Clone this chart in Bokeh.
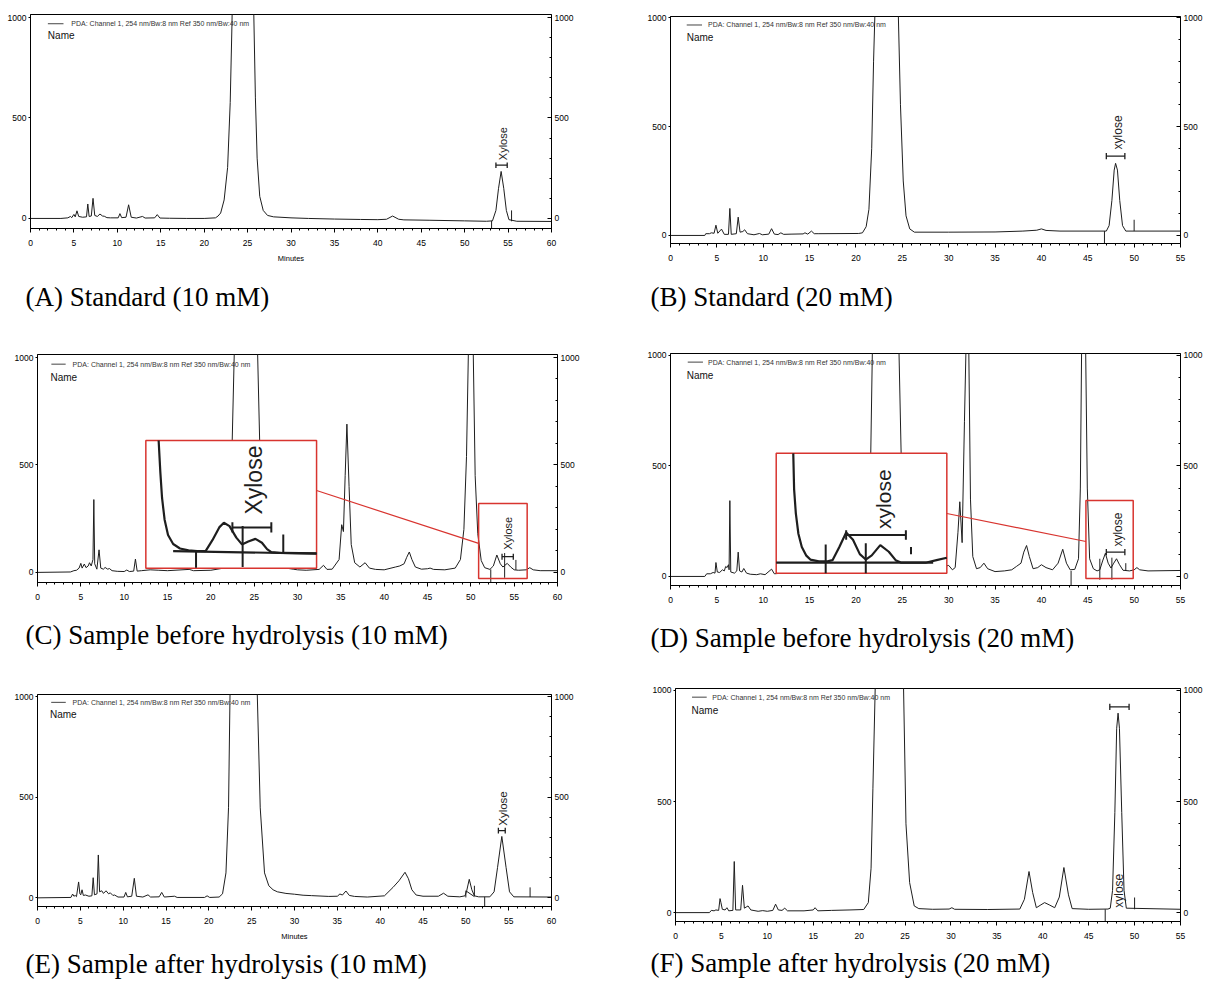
import numpy as np
from bokeh.plotting import figure
from bokeh.layouts import column, row
from bokeh.models import Title, LinearAxis, FixedTicker, SingleIntervalTicker, Range1d
from bokeh.core.properties import value
from bokeh.embed import file_html
from bokeh.resources import INLINE

# ---------------------------------------------------------------- data
captions = ["(A) Standard (10 mM)", "(B) Standard (20 mM)",
            "(C) Sample before hydrolysis (10 mM)", "(D) Sample before hydrolysis (20 mM)",
            "(E) Sample after hydrolysis (10 mM)", "(F) Sample after hydrolysis (20 mM)"]
legend_text = "PDA: Channel 1, 254 nm/Bw:8 nm Ref 350 nm/Bw:40 nm"
y_ticks = [0, 500, 1000]

# retention time (min) / detector response
A_time = [0, 3.5, 4.3, 4.6, 4.75, 5.0, 5.15, 5.35, 5.55, 6.0, 6.45, 6.6, 6.75, 7.0, 7.2, 7.4, 7.7, 8.0, 8.3, 8.5,
          8.8, 9.2, 10.1, 10.3, 10.5, 11.0, 11.3, 11.6, 12.2, 12.9, 13.2, 14.3, 14.6, 14.9, 16, 18, 20, 21.3, 21.6,
          21.9, 22.3, 22.7, 23.0, 23.2, 23.6, 24.5, 25.4, 25.7, 25.9, 26.1, 26.4, 26.8, 27.3, 28, 30, 32, 35, 38,
          40, 41.0, 41.7, 42.4, 43, 46, 50, 52.5, 53.2, 53.6, 53.9, 54.2, 54.5, 54.8, 55.1, 56, 60]
A_signal = [0, 0, 3, 10, 4, 20, 8, 38, 10, 6, 8, 72, 10, 12, 100, 15, 10, 22, 12, 11,
            4, 3, 3, 24, 4, 6, 68, 6, 2, 10, 2, 3, 19, 2, 1, 0, 0, 3, 12,
            27, 92, 254, 577, 965, 2000, 2200, 2000, 1050, 600, 300, 110, 40, 15, 8, 3, 0, -3, -5,
            -6, -4, 12, -4, -7, -9, -12, -14, -12, 40, 150, 234, 150, 40, -6, -14, -15]

B_time = [0, 3.7, 3.8, 4.2, 4.4, 4.7, 4.9, 5.1, 5.5, 5.8, 6.25, 6.4, 6.55, 7.1, 7.3, 7.5, 7.8, 8.0, 8.3, 9.0,
          9.6, 9.9, 10.6, 10.9, 11.2, 11.6, 11.9, 12.2, 13, 14.3, 14.5, 14.8, 15.2, 15.5, 16, 20.3, 20.7, 21.1,
          21.4, 21.7, 21.9, 22.1, 22.5, 23.5, 24.3, 24.55, 24.8, 25.1, 25.4, 25.8, 26.3, 30, 35, 38, 39.5, 40.0,
          40.5, 42, 47.0, 47.3, 47.6, 47.85, 48.0, 48.2, 48.45, 48.75, 49.1, 55]
B_signal = [0, 0, 8, 8, 12, 10, 47, 10, 29, 5, 5, 124, 5, 8, 84, 15, 18, 26, 8, 3,
            9, 3, 6, 31, 6, 4, 12, 5, 6, 7, 12, 6, 20, 8, 8, 9, 12, 40,
            120, 400, 800, 1100, 2000, 2200, 1800, 1050, 600, 250, 90, 30, 15, 15, 16, 20, 24, 30,
            23, 20, 20, 45, 160, 300, 331, 300, 160, 45, 20, 20]

C_time = [0, 3.8, 4.2, 4.5, 4.8, 5.0, 5.15, 5.4, 5.6, 5.85, 6.0, 6.2, 6.4, 6.5, 6.6, 6.85, 7.1, 7.3, 7.6, 7.8,
          8.1, 8.3, 8.6, 9.2, 10.0, 10.3, 10.6, 11.1, 11.3, 11.5, 12, 13, 14, 15, 17.5, 18, 20, 21.5, 22.0,
          22.4, 22.75, 23.2, 25.0, 25.35, 25.7, 26.2, 27, 28.0, 28.5, 29, 29.5, 30, 31, 32.5, 33.0, 33.4, 34.0,
          34.8, 35.1, 35.3, 35.5, 35.7, 35.95, 36.2, 36.6, 37.2, 37.8, 38.3, 39, 40, 41.3, 41.8, 42.3, 42.6,
          42.9, 43.2, 43.6, 44.3, 45.0, 45.3, 45.7, 47, 48.2, 48.8, 49.2, 49.5, 49.75, 50.0, 50.25, 50.5, 50.8,
          51.2, 51.6, 52.2, 52.6, 53.0, 53.4, 53.7, 54.2, 54.6, 55.0, 55.5, 56.4, 56.8, 57.2, 58, 60]
C_signal = [0, 2, 8, 10, 20, 42, 20, 39, 22, 30, 45, 30, 60, 339, 40, 15, 105, 20, 15, 23,
            15, 18, 8, 5, 4, 11, 4, 6, 62, 6, 8, 12, 10, 8, 14, 8, 10, 20, 100,
            500, 1100, 2200, 2200, 1100, 500, 120, 40, 22, 25, 18, 15, 12, 10, 14, 33, 14, 15,
            60, 222, 190, 450, 690, 400, 130, 45, 25, 45, 20, 14, 12, 25, 30, 40, 70,
            95, 60, 25, 15, 17, 20, 14, 12, 20, 60, 200, 540, 1100, 2000, 1100, 450, 180,
            55, 22, 14, 30, 81, 40, 25, 42, 25, 12, 10, 12, 22, 12, 8, 8]

D_time = [0, 3.7, 3.9, 4.3, 4.6, 4.8, 4.9, 5.05, 5.3, 5.6, 5.8, 5.95, 6.1, 6.25, 6.32, 6.4, 6.5, 6.9, 7.15, 7.3,
          7.45, 7.7, 7.9, 8.2, 8.6, 9.3, 9.7, 10.2, 10.9, 11.2, 11.8, 15, 20, 21.2, 21.5, 21.8, 22.3, 24.2, 24.6,
          24.9, 25.4, 26, 28, 29, 30, 30.4, 30.7, 31.0, 31.2, 31.45, 31.7, 31.9, 32.0, 32.15, 32.35, 32.6, 33.0,
          33.4, 33.8, 34.2, 35, 36, 36.8, 37.3, 37.8, 38.1, 38.4, 38.7, 39.1, 39.6, 40.0, 40.5, 41.2, 41.8, 42.3,
          42.7, 43.1, 43.6, 44.0, 44.2, 44.35, 44.5, 44.75, 44.95, 45.2, 45.6, 46.0, 46.3, 46.6, 46.9, 47.2, 47.5,
          47.8, 48.1, 48.4, 48.8, 49.5, 50.0, 50.3, 50.6, 51.5, 55]
D_signal = [0, 0, 12, 12, 18, 15, 63, 20, 18, 30, 25, 45, 40, 53, 30, 343, 20, 15, 25, 110,
            25, 20, 36, 15, 10, 8, 12, 8, 33, 12, 14, 15, 18, 60, 300, 1100, 2200, 2200, 1100,
            500, 120, 50, 35, 40, 50, 30, 40, 200, 338, 153, 700, 1100, 1500, 1100, 350, 90, 35,
            40, 60, 35, 22, 25, 30, 45, 60, 110, 140, 90, 35, 40, 53, 40, 30, 60, 123,
            60, 30, 32, 80, 400, 1100, 2000, 1100, 400, 80, 35, 25, 30, 70, 105, 60, 38,
            60, 80, 55, 28, 25, 30, 40, 30, 25, 27]

E_time = [0, 3.9, 4.1, 4.25, 4.4, 4.55, 4.8, 4.95, 5.05, 5.2, 5.35, 5.6, 6.0, 6.35, 6.5, 6.65, 6.95, 7.1, 7.25,
          7.5, 7.7, 8.0, 8.3, 8.5, 8.8, 9.0, 9.4, 10.1, 10.3, 10.5, 11.0, 11.3, 11.55, 12.3, 12.9, 13.2, 14.2,
          14.5, 14.8, 16.0, 16.3, 19.5, 19.8, 20.1, 21.2, 21.6, 22.0, 22.3, 22.5, 23.0, 25.2, 25.6, 26.0, 26.5,
          27.0, 27.5, 28.0, 29, 30, 31, 32, 34, 35.0, 35.3, 35.6, 36.0, 36.4, 37, 38.5, 40.5, 41.5, 42.2, 42.9,
          43.3, 43.7, 44.2, 45, 46.8, 47.4, 47.9, 49.3, 49.9, 50.1, 50.4, 50.7, 51.0, 51.5, 52.8, 53.3, 53.7,
          54.2, 54.7, 55.1, 55.6, 60]
E_signal = [0, 2, 19, 8, 12, 6, 79, 20, 15, 40, 12, 14, 8, 10, 100, 15, 20, 213, 30,
            35, 22, 35, 20, 25, 12, 14, 4, 4, 27, 5, 8, 97, 8, 4, 15, 4, 5,
            27, 4, 8, 2, 2, 10, 2, 4, 20, 124, 450, 1100, 2200, 2200, 1100, 447, 124,
            60, 40, 30, 22, 18, 13, 11, 7, 8, 19, 14, 34, 12, 7, 4, 10, 52, 85, 127,
            95, 40, 14, 8, 8, 23, 8, 5, 10, 35, 92, 40, 10, 5, 5, 30, 150,
            305, 150, 30, 5, 4]

F_time = [0, 3.7, 3.9, 4.2, 4.4, 4.7, 4.85, 4.95, 5.1, 5.4, 5.6, 5.8, 6.25, 6.4, 6.55, 7.1, 7.3, 7.5, 7.7, 7.9,
          8.2, 9.0, 9.5, 10.0, 10.6, 10.9, 11.2, 11.6, 11.9, 12.2, 14.0, 15.0, 15.2, 15.5, 17, 19, 20.5, 21.0,
          21.3, 21.5, 21.8, 22.5, 24.3, 24.8, 25.1, 25.5, 26.0, 26.5, 28, 29.8, 30.1, 30.4, 34, 37.5, 38.0, 38.5,
          38.9, 39.3, 39.8, 40.2, 40.7, 41.3, 41.8, 42.3, 42.8, 43.2, 45.0, 47.1, 47.35, 47.6, 47.85, 48.05, 48.2,
          48.35, 48.6, 48.85, 49.1, 55]
F_signal = [0, 0, 10, 8, 12, 10, 63, 45, 15, 12, 22, 8, 10, 230, 12, 12, 123, 20, 25, 30,
            12, 6, 9, 6, 10, 38, 12, 10, 20, 8, 8, 12, 22, 8, 10, 12, 14, 45,
            200, 560, 1100, 2200, 2200, 1100, 400, 135, 30, 18, 15, 16, 22, 15, 14, 16, 60, 185,
            90, 22, 35, 45, 35, 22, 70, 203, 80, 18, 15, 16, 20, 100, 450, 830, 898,
            830, 450, 100, 20, 15]

# xylose annotation (one entry per panel A..F)
xylose_names = ["Xylose", "xylose", "Xylose", "xylose", "Xylose", "xylose"]
xylose_label_t = [54.45, 48.25, 54.3, 48.3, 54.3, 48.3]
xylose_label_y = [290, 395, 105, 135, 358, 22]
bracket_t0 = [53.6, 47.0, 53.6, 47.0, 53.8, 47.3]
bracket_t1 = [54.9, 49.0, 54.9, 49.0, 54.6, 49.4]
bracket_y = [265, 364, 73, 110, 334, 926]

# integration event marks: time, from, to
A_marks = ([53.1, 55.4], [-12, -14], [-60, 40])
B_marks = ([46.8, 50.0], [20, 20], [-60, 72])
C_marks = ([52.3, 53.9, 55.2], [14, 90, 12], [-60, -25, 58])
D_marks = ([43.2, 46.3, 47.6, 49.1], [25, 80, 85, 60], [-45, -15, -15, 25])
E_marks = ([50.0, 51.0, 52.2, 57.5], [2, 8, 5, 4], [35, 60, -60, 52])
F_marks = ([46.8, 50.0], [15, 15], [-60, 68])
E_split = ([50.0, 51.0], [35, 6])

# zoomed insets (C, D): box in panel data units, content in box-relative units
C_box = (12.5, 32.2, 19, 614)
C_zoom_box = (50.9, 56.5, -28, 321)
C_link = ((32.2, 381), (50.9, 135))
C_inset_u = [0.075, 0.085, 0.095, 0.11, 0.13, 0.16, 0.20, 0.25, 0.30, 0.35, 0.39, 0.43, 0.457, 0.49, 0.53,
             0.563, 0.60, 0.642, 0.68, 0.71, 0.735, 0.80, 1.0]
C_inset_v = [1.0, 0.75, 0.55, 0.38, 0.26, 0.19, 0.155, 0.14, 0.135, 0.135, 0.22, 0.32, 0.356, 0.33, 0.24,
             0.187, 0.21, 0.23, 0.20, 0.15, 0.127, 0.12, 0.117]
C_inset_base = ([0.16, 1.0], [0.135, 0.115])
C_inset_marks = ([0.294, 0.567, 0.805], [0.127, 0.33, 0.265], [0.005, 0.01, 0.114])
C_inset_bracket = (0.507, 0.735, 0.32)
C_inset_label = ("Xylose", 0.636, 0.42)

D_box = (11.4, 29.8, 14, 557)
D_zoom_box = (44.8, 49.9, -9, 344)
D_link = ((29.8, 285), (44.8, 158))
D_inset_u = [0.10, 0.105, 0.115, 0.13, 0.15, 0.175, 0.20, 0.25, 0.30, 0.33, 0.37, 0.41, 0.45, 0.49, 0.525,
             0.56, 0.61, 0.66, 0.70, 0.73, 0.80, 0.88, 0.94, 1.0]
D_inset_v = [1.0, 0.70, 0.50, 0.33, 0.22, 0.15, 0.115, 0.10, 0.10, 0.11, 0.22, 0.34, 0.28, 0.16, 0.115,
             0.15, 0.235, 0.18, 0.11, 0.09, 0.09, 0.09, 0.11, 0.13]
D_inset_base = ([0.0, 0.92], [0.09, 0.09])
D_inset_marks = ([0.29, 0.525, 0.79], [0.24, 0.25, 0.22], [0.0, 0.0, 0.16])
D_inset_bracket = (0.41, 0.76, 0.32)
D_inset_label = ("xylose", 0.63, 0.37)

# ---------------------------------------------------------------- layout / style
INK = "#1e1e1e"
RED = "#d8342f"
SANS = "Liberation Sans"

cfgs = [
    dict(t=A_time, s=A_signal, m=A_marks, w=615, h=330, l=30, r=64, top=14, bot=102, xmax=60, yr=(-50, 1015),
         minutes=True, cap_dx=-5, cap_so=29, leg=(2.0, 3.8, 4.7, 969, 2.0, 911), lab=11),
    dict(t=B_time, s=B_signal, m=B_marks, w=590, h=330, l=55, r=22, top=16, bot=87, xmax=55, yr=(-37, 1005),
         minutes=False, cap_dx=-20, cap_so=33, leg=(1.75, 3.4, 4.05, 966, 1.75, 908), lab=12),
    dict(t=C_time, s=C_signal, m=C_marks, w=615, h=338, l=37, r=58, top=24, bot=86, xmax=60, yr=(-47, 1014),
         minutes=False, cap_dx=-12, cap_so=31, leg=(1.6, 3.25, 4.05, 969, 1.5, 909), lab=11),
    dict(t=D_time, s=D_signal, m=D_marks, w=590, h=338, l=55, r=22, top=23, bot=83, xmax=55, yr=(-41, 1009),
         minutes=False, cap_dx=-20, cap_so=30, leg=(1.86, 3.5, 4.05, 970, 1.75, 910), lab=12),
    dict(t=E_time, s=E_signal, m=E_marks, w=615, h=314, l=37, r=64, top=26, bot=72, xmax=60, yr=(-43, 1010),
         minutes=True, cap_dx=-12, cap_so=7, leg=(1.6, 3.3, 4.1, 971, 1.45, 910), lab=11.5),
    dict(t=F_time, s=F_signal, m=F_marks, w=590, h=314, l=60, r=22, top=20, bot=61, xmax=55, yr=(-40, 1009),
         minutes=False, cap_dx=-25, cap_so=9, leg=(1.8, 3.4, 4.0, 970, 1.75, 910), lab=12),
]


def draw_inset(p, box, zbox, link, u, v, base, marks, brk, lab, lab_size):
    x0, x1, y0, y1 = box
    X = lambda uu: [x0 + a * (x1 - x0) for a in uu]
    Y = lambda vv: [y0 + b * (y1 - y0) for b in vv]
    p.quad(left=[x0], right=[x1], bottom=[y0], top=[y1], fill_color="white", line_color=RED, line_width=1.5)
    p.line(X(u), Y(v), line_color=INK, line_width=2.2)
    p.line(X(base[0]), Y(base[1]), line_color=INK, line_width=2.2)
    p.segment(x0=X(marks[0]), y0=Y(marks[1]), x1=X(marks[0]), y1=Y(marks[2]), line_color=INK, line_width=2)
    bu0, bu1, bv = brk
    p.segment(x0=X([bu0]), y0=Y([bv]), x1=X([bu1]), y1=Y([bv]), line_color=INK, line_width=2)
    p.segment(x0=X([bu0, bu1]), y0=Y([bv - 0.04, bv - 0.04]), x1=X([bu0, bu1]), y1=Y([bv + 0.04, bv + 0.04]),
              line_color=INK, line_width=2)
    p.text(x=X([lab[1]]), y=Y([lab[2]]), text=[lab[0]], angle=np.pi / 2, text_align="left",
           text_baseline="middle", text_font=value(SANS), text_font_size=lab_size, text_color=INK)
    zx0, zx1, zy0, zy1 = zbox
    p.quad(left=[zx0], right=[zx1], bottom=[zy0], top=[zy1], fill_alpha=0, line_color=RED, line_width=1.5)
    (ax, ay), (bx, by) = link
    p.segment(x0=[ax], y0=[ay], x1=[bx], y1=[by], line_color=RED, line_width=1.2)


figs = []
for i, c in enumerate(cfgs):
    p = figure(width=c["w"], height=c["h"], x_range=Range1d(0, c["xmax"]), y_range=Range1d(*c["yr"]),
               output_backend="svg", toolbar_location=None, title_location=None,
               min_border_left=c["l"], min_border_right=c["r"], min_border_top=c["top"],
               min_border_bottom=c["bot"])
    p.xgrid.visible = False
    p.ygrid.visible = False
    p.outline_line_color = "black"
    p.outline_line_width = 1
    p.background_fill_color = "white"
    p.border_fill_color = "white"

    xa = p.xaxis[0]
    xa.ticker = SingleIntervalTicker(interval=5, num_minor_ticks=5)
    xa.major_tick_out = 4
    xa.major_tick_in = 0
    xa.minor_tick_out = 2
    xa.minor_tick_in = 0
    xa.major_label_standoff = 7
    xa.major_label_text_font = SANS
    xa.major_label_text_font_size = "8.5px"
    xa.major_label_text_color = "black"
    xa.axis_line_color = "black"
    if c["minutes"]:
        xa.axis_label = "Minutes"
        xa.axis_label_text_font = SANS
        xa.axis_label_text_font_size = "7.5px"
        xa.axis_label_text_font_style = "normal"
        xa.axis_label_text_color = "black"
        xa.axis_label_standoff = 5

    ya = p.yaxis[0]
    ya.ticker = FixedTicker(ticks=y_ticks)
    ya.major_tick_out = 2
    ya.major_tick_in = 0
    ya.minor_tick_out = 0
    ya.minor_tick_in = 0
    ya.major_label_standoff = 2
    ya.major_label_text_font = SANS
    ya.major_label_text_font_size = "8.5px"
    ya.major_label_text_color = "black"

    ra = LinearAxis(ticker=FixedTicker(ticks=y_ticks, minor_ticks=list(range(0, 1001, 100))))
    ra.major_tick_out = 0
    ra.major_tick_in = 4
    ra.minor_tick_in = 2
    ra.minor_tick_out = 0
    ra.major_label_standoff = 3
    ra.major_label_text_font = SANS
    ra.major_label_text_font_size = "8.5px"
    ra.major_label_text_color = "black"
    p.add_layout(ra, "right")

    # chromatogram trace
    p.line(c["t"], c["s"], line_color=INK, line_width=1)

    # integration marks
    mt, m0, m1 = c["m"]
    p.segment(x0=mt, y0=m0, x1=mt, y1=m1, line_color=INK, line_width=1)
    if i == 4:
        p.line(E_split[0], E_split[1], line_color=INK, line_width=1)

    # xylose bracket and label
    p.segment(x0=[bracket_t0[i]], y0=[bracket_y[i]], x1=[bracket_t1[i]], y1=[bracket_y[i]],
              line_color=INK, line_width=1.3)
    p.segment(x0=[bracket_t0[i], bracket_t1[i]], y0=[bracket_y[i] - 14] * 2,
              x1=[bracket_t0[i], bracket_t1[i]], y1=[bracket_y[i] + 14] * 2, line_color=INK, line_width=1.3)
    p.text(x=[xylose_label_t[i]], y=[xylose_label_y[i]], text=[xylose_names[i]], angle=np.pi / 2,
           text_align="left", text_baseline="middle", text_font=value(SANS),
           text_font_size=f"{c['lab']}px", text_color=INK)

    # legend
    lx0, lx1, tx, ly, nx, ny = c["leg"]
    p.line([lx0, lx1], [ly, ly], line_color="#444444", line_width=1)
    p.text(x=[tx], y=[ly], text=[legend_text], text_baseline="middle", text_font=value(SANS),
           text_font_size="7px", text_color="#333333")
    p.text(x=[nx], y=[ny], text=["Name"], text_baseline="middle", text_font=value(SANS),
           text_font_size="10px", text_color="#111111")

    if i == 2:
        draw_inset(p, C_box, C_zoom_box, C_link, C_inset_u, C_inset_v, C_inset_base, C_inset_marks,
                   C_inset_bracket, C_inset_label, "23px")
    if i == 3:
        draw_inset(p, D_box, D_zoom_box, D_link, D_inset_u, D_inset_v, D_inset_base, D_inset_marks,
                   D_inset_bracket, D_inset_label, "21px")

    cap = Title(text=captions[i], align="left", offset=c["cap_dx"], standoff=c["cap_so"],
                text_font="Liberation Serif", text_font_size="27px", text_font_style="normal",
                text_color="black")
    p.add_layout(cap, "below")
    figs.append(p)

# each plot wrapped in its own column so that frames are not aligned across a row
layout = column(*[row(column(figs[2 * k]), column(figs[2 * k + 1])) for k in range(3)])
open("out.html", "w").write(file_html(layout, INLINE))
